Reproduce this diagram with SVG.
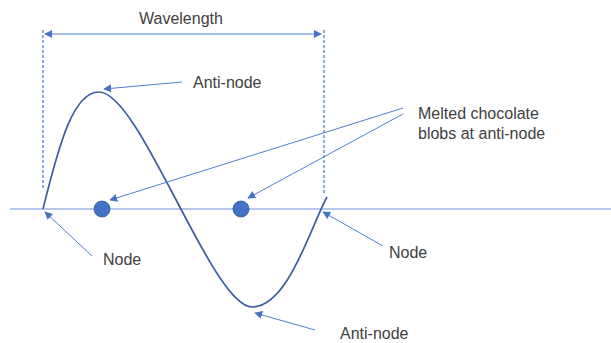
<svg xmlns="http://www.w3.org/2000/svg" width="611" height="343" viewBox="0 0 611 343">
  <style>
    .label { font-family: "Liberation Sans", Arial, sans-serif; font-size: 16px; fill: #404040; }
    .pointer { stroke: #4f7fd0; stroke-width: 1; fill: none; marker-end: url(#tip); }
    .guide { stroke: #4472c4; stroke-width: 1.2; stroke-dasharray: 3 2; fill: none; }
    .blob { fill: #4472c4; stroke: #2f5597; stroke-width: 0.8; }
  </style>
  <defs>
    <marker id="tip" viewBox="0 0 10 10" refX="9" refY="5" markerWidth="8" markerHeight="8" markerUnits="userSpaceOnUse" orient="auto">
      <path d="M0,0 L10,5 L0,10 z" fill="#4472c4"/>
    </marker>
    <marker id="tipStart" viewBox="0 0 10 10" refX="1" refY="5" markerWidth="8" markerHeight="8" markerUnits="userSpaceOnUse" orient="auto">
      <path d="M10,0 L0,5 L10,10 z" fill="#4472c4"/>
    </marker>
  </defs>

  <!-- rest line of the string -->
  <line id="axis" x1="10" y1="209" x2="611" y2="209" stroke="#9db5e3" stroke-width="1.5"/>

  <!-- wavelength span -->
  <g id="wavelength">
    <line class="guide" x1="43" y1="30" x2="43" y2="188"/>
    <line class="guide" x1="324" y1="30" x2="324" y2="193"/>
    <line x1="45" y1="34" x2="321" y2="34" stroke="#4f7fd0" stroke-width="1.2" marker-start="url(#tipStart)" marker-end="url(#tip)"/>
    <text class="label" x="139" y="24">Wavelength</text>
  </g>

  <!-- standing wave -->
  <g id="wave">
    <path d="M43,209 C60,140 74,92 99,92 C140,92 212,307 252,307 C288,307 310,228 327,197" fill="none" stroke="#3b5ea3" stroke-width="1.7"/>
  </g>

  <g id="blob-left"><circle class="blob" cx="102" cy="209" r="8"/></g>
  <g id="blob-right"><circle class="blob" cx="241" cy="209" r="8"/></g>

  <g id="label-antinode-top"><text class="label" x="193" y="88">Anti-node</text></g>
  <g id="label-antinode-bottom"><text class="label" x="340" y="339">Anti-node</text></g>
  <g id="label-node-left"><text class="label" x="103" y="265">Node</text></g>
  <g id="label-node-right"><text class="label" x="389" y="258">Node</text></g>
  <g id="label-blobs">
    <text class="label" x="418" y="119">Melted chocolate</text>
    <text class="label" x="418" y="139">blobs at anti-node</text>
  </g>

  <!-- pointer arrows -->
  <g id="connectors">
    <line class="pointer" x1="182" y1="82" x2="104" y2="89"/>
    <line class="pointer" x1="315" y1="330" x2="255" y2="313"/>
    <line class="pointer" x1="92" y1="256" x2="45" y2="212"/>
    <line class="pointer" x1="383" y1="246" x2="323" y2="212"/>
    <line class="pointer" x1="403" y1="108" x2="110" y2="200"/>
    <line class="pointer" x1="403" y1="114" x2="248" y2="198"/>
  </g>
</svg>
